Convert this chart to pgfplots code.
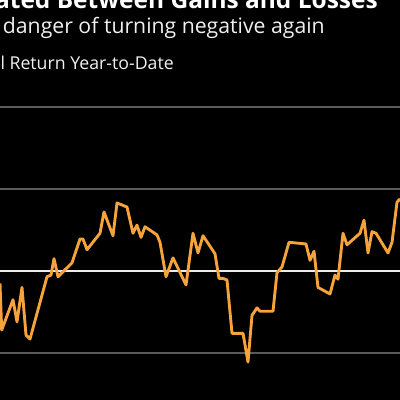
\documentclass[border=0pt]{standalone}
\usepackage{pgfplots}
\pgfplotsset{compat=1.18}
\usepackage{fontspec}
\setmainfont{Open Sans}
\definecolor{lineorange}{HTML}{F5A33A}
\definecolor{gridgray}{HTML}{5A5A5A}
\begin{document}
\begin{tikzpicture}
\clip (0,0) rectangle (10cm,10cm);
\fill[black] (0,0) rectangle (10cm,10cm);
\begin{axis}[
  at={(0,0)}, anchor=south west,
  scale only axis, width=10cm, height=10cm,
  xmin=0, xmax=400, ymin=-1.573, ymax=3.305,
  axis line style={draw=none}, tick style={draw=none},
  xtick=\empty, ytick={-1,1,2}, yticklabels={},
  ymajorgrids, grid style={gridgray, line width=1pt},
  clip=false,
]
\addplot[white!85!gray, line width=1.3pt] coordinates {(0,0) (400,0)};
\addplot[lineorange, line width=2.05pt, line join=round] coordinates {
(0,-0.15) (1.7,-0.72) (13,-0.35) (17,-0.62) (22,-0.20) (26,-0.78) (30,-0.83)
(47,-0.07) (51,-0.05) (54,0.15) (58,-0.07) (72,0.10) (80,0.39) (83,0.39)
(87,0.26) (100,0.46) (104,0.72) (113,0.43) (117,0.83) (127,0.78) (133,0.46)
(137,0.56) (141,0.41) (145,0.54) (157,0.44) (160,0.35) (166,-0.07) (173,0.16)
(186,-0.17) (193,0.46) (198,0.22) (203,0.43) (215,0.21) (219,-0.09) (223,-0.09)
(227,-0.11) (232,-0.76) (243,-0.76) (248,-1.11) (252,-0.54) (257,-0.45)
(260,-0.49) (273,-0.49) (277,-0.02) (282,0.05) (289,0.35) (306,0.33) (310,0.13)
(314,0.24) (318,-0.20) (330,-0.28) (335,-0.05) (338,-0.10) (343,0.46)
(347,0.32) (360,0.46) (364,0.62) (368,0.22) (372,0.48) (376,0.46) (388,0.22)
(392,0.35) (397,0.84) (400,0.88)
};
\end{axis}
\node[anchor=base east, inner sep=0, text=white, font=\fontsize{17.4}{20}\selectfont\bfseries] at (9.45cm,9.775cm) {Fluctuated Between Gains and Losses};
\node[anchor=base east, inner sep=0, text=white!88!gray, font=\fontsize{15.1}{17}\selectfont] at (8.125cm,9.15cm) {is in danger of turning negative again};
\node[anchor=base east, inner sep=0, text=white!88!gray, font=\fontsize{12.6}{14}\selectfont] at (4.35cm,8.25cm) {Total Return Year-to-Date};
\end{tikzpicture}
\end{document}
